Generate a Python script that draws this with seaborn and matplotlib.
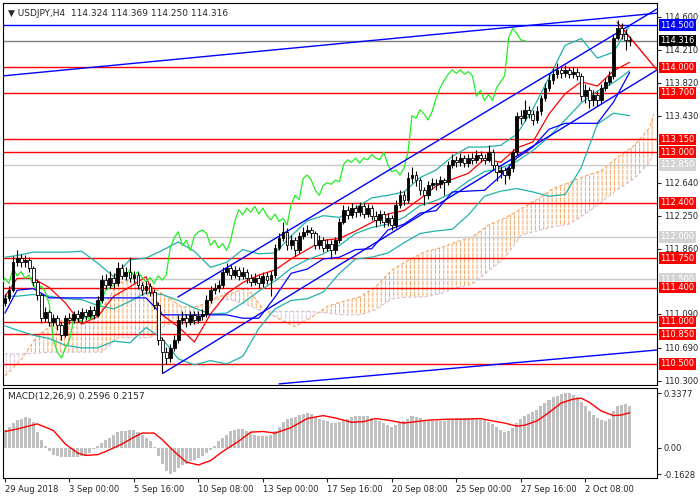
import numpy as np
import matplotlib
matplotlib.use("Agg")
import matplotlib.pyplot as plt
import seaborn as sns

sns.set_style("white")
plt.rcParams["font.family"] = ["DejaVu Sans"]
plt.rcParams["hatch.linewidth"] = 0.7

# USDJPY H4 candles (bar 0 = 29 Aug 2018 08:00)
first_open = 111.22
closes = [111.28, 111.37, 111.70, 111.75, 111.70, 111.73, 111.63, 111.47, 111.31, 111.04,
          111.11, 111.00, 111.04, 110.96, 110.84, 111.04, 111.02, 111.09, 111.04, 111.11,
          111.07, 111.14, 111.08, 111.26, 111.49, 111.43, 111.51, 111.45, 111.63, 111.54,
          111.59, 111.51, 111.55, 111.43, 111.37, 111.42, 111.35, 111.20, 110.78, 110.64,
          110.57, 110.69, 110.78, 111.02, 111.04, 111.00, 111.08, 111.02, 111.07, 111.09,
          111.26, 111.37, 111.40, 111.43, 111.59, 111.63, 111.55, 111.61, 111.54, 111.59,
          111.52, 111.47, 111.52, 111.45, 111.54, 111.49, 111.55, 111.87, 111.99, 112.06,
          111.90, 111.96, 111.84, 112.01, 112.06, 112.08, 112.04, 111.90, 111.96, 111.87,
          111.92, 111.84, 111.96, 112.18, 112.32, 112.26, 112.34, 112.29, 112.36, 112.27,
          112.34, 112.25, 112.20, 112.27, 112.18, 112.22, 112.14, 112.38, 112.49, 112.44,
          112.69, 112.73, 112.67, 112.55, 112.49, 112.61, 112.64, 112.62, 112.67, 112.65,
          112.85, 112.91, 112.88, 112.93, 112.87, 112.93, 112.91, 112.97, 112.93, 112.91,
          113.00, 112.85, 112.77, 112.79, 112.73, 112.81, 113.00, 113.43, 113.40, 113.50,
          113.45, 113.38, 113.48, 113.64, 113.76, 113.85, 113.92, 113.97, 113.93, 113.97,
          113.92, 113.95, 113.90, 113.66, 113.73, 113.61, 113.68, 113.61, 113.76, 113.83,
          113.90, 114.35, 114.46, 114.40, 114.324, 114.316]
highs = [111.33, 111.42, 111.78, 111.84, 111.80, 111.79, 111.76, 111.66, 111.50, 111.34,
         111.17, 111.14, 111.09, 111.08, 111.00, 111.08, 111.10, 111.13, 111.14, 111.16,
         111.15, 111.19, 111.18, 111.30, 111.55, 111.56, 111.60, 111.57, 111.70, 111.68,
         111.65, 111.76, 111.60, 111.58, 111.47, 111.48, 111.46, 111.39, 111.23, 110.82,
         110.70, 110.73, 110.84, 111.08, 111.12, 111.09, 111.13, 111.12, 111.12, 111.15,
         111.31, 111.42, 111.46, 111.49, 111.64, 111.69, 111.67, 111.66, 111.65, 111.64,
         111.62, 111.56, 111.57, 111.55, 111.58, 111.58, 111.60, 111.92, 112.05, 112.18,
         112.10, 112.02, 112.00, 112.06, 112.12, 112.14, 112.12, 112.07, 112.02, 112.00,
         111.98, 111.96, 112.00, 112.22, 112.38, 112.37, 112.40, 112.38, 112.41, 112.40,
         112.39, 112.38, 112.30, 112.32, 112.31, 112.28, 112.26, 112.43, 112.55, 112.54,
         112.76, 112.82, 112.78, 112.70, 112.59, 112.66, 112.70, 112.68, 112.72, 112.70,
         112.90, 112.98, 112.96, 112.99, 112.97, 112.98, 112.99, 113.02, 113.01, 112.98,
         113.09, 113.04, 112.88, 112.84, 112.83, 112.86, 113.04, 113.47, 113.50, 113.62,
         113.55, 113.50, 113.54, 113.68, 113.82, 113.92, 113.99, 114.05, 114.02, 114.03,
         114.01, 114.01, 113.99, 113.93, 113.80, 113.77, 113.73, 113.72, 113.80, 113.88,
         113.96, 114.40, 114.56, 114.52, 114.45, 114.369]
lows = [111.18, 111.24, 111.35, 111.66, 111.64, 111.65, 111.58, 111.42, 111.26, 110.98,
        111.00, 110.95, 110.95, 110.90, 110.78, 110.82, 110.97, 110.98, 110.99, 111.00,
        111.02, 111.04, 111.03, 111.05, 111.22, 111.38, 111.40, 111.40, 111.42, 111.50,
        111.49, 111.47, 111.46, 111.38, 111.31, 111.33, 111.30, 111.15, 110.72, 110.39,
        110.50, 110.52, 110.65, 110.75, 110.97, 110.94, 110.96, 110.97, 110.98, 111.02,
        111.06, 111.22, 111.33, 111.35, 111.40, 111.55, 111.50, 111.51, 111.49, 111.50,
        111.46, 111.42, 111.43, 111.40, 111.41, 111.44, 111.30, 111.52, 111.84, 111.95,
        111.85, 111.86, 111.78, 111.81, 111.97, 112.02, 111.99, 111.86, 111.86, 111.82,
        111.83, 111.74, 111.80, 111.93, 112.15, 112.21, 112.22, 112.24, 112.25, 112.22,
        112.23, 112.20, 112.12, 112.15, 112.12, 112.13, 112.08, 112.10, 112.34, 112.38,
        112.40, 112.64, 112.60, 112.50, 112.38, 112.45, 112.56, 112.55, 112.58, 112.50,
        112.61, 112.81, 112.82, 112.84, 112.82, 112.83, 112.86, 112.87, 112.88, 112.86,
        112.88, 112.80, 112.66, 112.70, 112.62, 112.68, 112.77, 112.97, 113.33, 113.37,
        113.40, 113.32, 113.34, 113.44, 113.60, 113.72, 113.81, 113.88, 113.88, 113.89,
        113.87, 113.88, 113.85, 113.60, 113.58, 113.52, 113.55, 113.55, 113.58, 113.72,
        113.79, 113.86, 114.32, 114.33, 114.20, 114.250]

# indicator lines, every 4th bar
line_bars = [0] + list(range(3, 156, 4))
bb_upper = [111.76, 111.78, 111.82, 111.82, 111.82, 111.83, 111.69, 111.53, 111.73, 111.75,
            111.84, 111.94, 111.83, 111.64, 111.70, 111.85, 111.80, 111.81, 112.01, 112.19,
            112.25, 112.23, 112.34, 112.46, 112.49, 112.53, 112.70, 112.79, 112.95, 113.06,
            113.06, 113.08, 113.21, 113.51, 113.88, 114.26, 114.34, 114.11, 114.18, 114.49]
bb_mid = [111.30, 111.30, 111.32, 111.30, 111.27, 111.26, 111.19, 111.15, 111.24, 111.34,
          111.32, 111.25, 111.16, 111.09, 111.10, 111.22, 111.36, 111.48, 111.63, 111.73,
          111.80, 111.90, 112.04, 112.11, 112.15, 112.23, 112.37, 112.43, 112.52, 112.66,
          112.77, 112.81, 112.89, 113.02, 113.18, 113.38, 113.58, 113.72, 113.82, 113.96]
bb_lower = [110.95, 110.90, 110.84, 110.80, 110.72, 110.69, 110.69, 110.77, 110.75, 110.93,
            110.80, 110.56, 110.49, 110.54, 110.50, 110.59, 110.92, 111.15, 111.25, 111.27,
            111.35, 111.57, 111.74, 111.76, 111.81, 111.93, 112.04, 112.07, 112.09, 112.26,
            112.48, 112.54, 112.57, 112.53, 112.48, 112.50, 112.82, 113.33, 113.46, 113.43]
tenkan = [111.30, 111.51, 111.51, 111.40, 111.22, 110.97, 111.06, 111.30, 111.41, 111.53,
          111.08, 110.94, 110.76, 111.09, 111.33, 111.46, 111.55, 111.61, 111.74, 111.85,
          111.96, 111.98, 112.07, 112.17, 112.27, 112.31, 112.45, 112.60, 112.68, 112.75,
          112.92, 112.88, 113.05, 113.12, 113.45, 113.69, 113.83, 113.78, 113.96, 114.06]
kijun = [111.10, 111.37, 111.39, 111.28, 111.28, 111.28, 111.28, 111.28, 111.28, 111.28,
         111.08, 111.08, 111.08, 111.08, 111.08, 111.04, 111.04, 111.29, 111.57, 111.62,
         111.74, 111.76, 111.85, 111.86, 112.08, 112.15, 112.28, 112.31, 112.53, 112.54,
         112.55, 112.72, 112.93, 113.06, 113.27, 113.34, 113.34, 113.34, 113.59, 113.94]

cloud_bars = list(range(0, 161, 4)) + [161]
senkou_a = [110.36, 110.55, 110.83, 110.97, 111.05, 111.07, 111.14, 111.45, 111.51, 111.43,
            111.30, 111.17, 111.18, 111.28, 111.33, 111.40, 111.15, 111.03, 110.94, 111.05,
            111.18, 111.24, 111.29, 111.41, 111.61, 111.72, 111.82, 111.87, 111.94, 112.00,
            112.14, 112.22, 112.33, 112.44, 112.57, 112.64, 112.72, 112.78, 112.94, 113.07,
            113.29, 113.45]
senkou_b = [110.62, 110.62, 110.63, 110.64, 110.64, 110.64, 110.64, 110.81, 110.81, 110.81,
            110.97, 110.97, 110.97, 111.26, 111.26, 111.20, 111.12, 111.12, 111.12, 111.12,
            111.10, 111.08, 111.08, 111.14, 111.27, 111.29, 111.29, 111.33, 111.40, 111.44,
            111.60, 111.75, 112.02, 112.07, 112.12, 112.15, 112.27, 112.41, 112.56, 112.68,
            112.88, 113.02]

# MACD(12,26,9): main as histogram, signal as line
macd_hist = [0.106, 0.13, 0.152, 0.168, 0.18, 0.19, 0.183, 0.161, 0.096, 0.05,
             0.01, -0.02, -0.043, -0.052, -0.056, -0.058, -0.058, -0.057, -0.055, -0.05,
             -0.043, -0.035, -0.01, 0.01, 0.03, 0.045, 0.06, 0.077, 0.095, 0.10,
             0.105, 0.106, 0.106, 0.097, 0.08, 0.06, 0.04, 0.005, -0.05, -0.10,
             -0.145, -0.1628, -0.15, -0.125, -0.11, -0.10, -0.085, -0.075, -0.062, -0.05,
             -0.035, -0.015, 0.01, 0.04, 0.06, 0.08, 0.10, 0.11, 0.115, 0.118,
             0.105, 0.09, 0.08, 0.075, 0.072, 0.072, 0.078, 0.10, 0.13, 0.16,
             0.175, 0.185, 0.19, 0.20, 0.21, 0.216, 0.205, 0.19, 0.178, 0.17,
             0.163, 0.152, 0.155, 0.16, 0.172, 0.18, 0.19, 0.195, 0.198, 0.198,
             0.195, 0.185, 0.172, 0.165, 0.152, 0.142, 0.13, 0.14, 0.155, 0.165,
             0.18, 0.195, 0.192, 0.183, 0.17, 0.165, 0.163, 0.162, 0.163, 0.165,
             0.172, 0.178, 0.181, 0.183, 0.184, 0.185, 0.184, 0.182, 0.175, 0.168,
             0.16, 0.145, 0.125, 0.11, 0.095, 0.10, 0.12, 0.155, 0.175, 0.195,
             0.21, 0.22, 0.235, 0.255, 0.275, 0.295, 0.31, 0.322, 0.332, 0.3377,
             0.335, 0.328, 0.31, 0.285, 0.255, 0.225, 0.20, 0.185, 0.17, 0.165,
             0.18, 0.225, 0.255, 0.265, 0.272, 0.2596]
sig_bars = [0, 3, 8, 12, 15, 18, 20, 23, 25, 29, 32, 34, 37, 39, 42, 45, 48, 51, 54, 58,
            61, 64, 67, 71, 75, 79, 82, 86, 89, 92, 95, 99, 102, 105, 110, 114, 118, 121, 124, 127,
            129, 132, 135, 138, 141, 143, 145, 148, 151, 153, 155]
sig_vals = [0.10, 0.115, 0.147, 0.106, 0.022, -0.033, -0.048, -0.043, -0.024, 0.022,
            0.065, 0.09, 0.09, 0.05, -0.024, -0.089, -0.107, -0.08, -0.024, 0.04,
            0.096, 0.10, 0.09, 0.124, 0.18, 0.198, 0.183, 0.157, 0.161, 0.18,
            0.17, 0.152, 0.161, 0.17, 0.176, 0.176, 0.18, 0.165, 0.152, 0.133,
            0.139, 0.165, 0.217, 0.276, 0.30, 0.306, 0.28, 0.226, 0.198, 0.202, 0.2157]

# drawn objects: levels and trend lines
red_levels = [114.0, 113.7, 113.15, 113.0, 112.4, 111.75, 111.4, 111.0, 110.85, 110.5]
blue_levels = [114.5]
silver_levels = [112.85, 112.0, 111.5]
bid = 114.316
trend_lines = [
    ([-0.5, 161.8], [113.90, 114.64], "blue"),
    ([42.9, 161.8], [111.29, 114.69], "blue"),
    ([39.2, 161.8], [110.39, 113.97], "blue"),
    ([68.0, 161.8], [110.265, 110.665], "blue"),
    ([151.9, 161.8], [114.535, 113.97], "red"),
]

# scale labels (113.040 and 111.480 sit under level tags on the original)
price_ticks = [114.600, 114.210, 113.820, 113.430, 112.640, 112.250,
               111.860, 111.090, 110.690, 110.300]
date_ticks = [0, 16, 32, 48, 64, 80, 96, 112, 128, 144]
date_labels = ["29 Aug 2018", "3 Sep 00:00", "5 Sep 16:00", "10 Sep 08:00", "13 Sep 00:00",
               "17 Sep 16:00", "20 Sep 08:00", "25 Sep 00:00", "27 Sep 16:00", "2 Oct 08:00"]

n = len(closes)
bars = np.arange(n)
c = np.array(closes)
o = np.array([first_open] + closes[:-1])

fig = plt.figure(figsize=(7, 5), dpi=100)
ax = fig.add_axes([3 / 700, 1 - 385 / 500, 654 / 700, 382 / 500])
mx = fig.add_axes([3 / 700, 1 - 478 / 500, 654 / 700, 90 / 500])
xlim = (-0.5, 161.8)

# ichimoku cloud
cx = np.array(cloud_bars)
ca = np.array(senkou_a)
cb = np.array(senkou_b)
ax.fill_between(cx, ca, cb, where=ca >= cb, interpolate=True, facecolor="none",
                edgecolor="#F4A460", hatch="||||", linewidth=0, zorder=1)
ax.fill_between(cx, ca, cb, where=ca < cb, interpolate=True, facecolor="none",
                edgecolor="#D8BFD8", hatch="||||", linewidth=0, zorder=1)
ax.fill_between(cx, ca, cb, facecolor="none", edgecolor="white", hatch="---",
                linewidth=0, zorder=1.1)
ax.plot(cx, ca, color="#F4A460", lw=0.8, ls=(0, (3, 2)), zorder=1.2)
ax.plot(cx, cb, color="#D8BFD8", lw=0.8, ls=(0, (3, 2)), zorder=1.2)

# horizontal levels
for lv in red_levels:
    ax.axhline(lv, color="red", lw=1, zorder=2)
for lv in blue_levels:
    ax.axhline(lv, color="blue", lw=1, zorder=2)
for lv in silver_levels:
    ax.axhline(lv, color="#C8C8C8", lw=1, zorder=2)
ax.axhline(bid, color="#808080", lw=1, zorder=2)

# indicators
for ys in (bb_upper, bb_mid, bb_lower):
    sns.lineplot(x=line_bars, y=ys, ax=ax, color="#20B2AA", linewidth=0.9, legend=False, zorder=3)
sns.lineplot(x=line_bars, y=tenkan, ax=ax, color="red", linewidth=0.9, legend=False, zorder=3)
sns.lineplot(x=line_bars, y=kijun, ax=ax, color="blue", linewidth=0.9, legend=False, zorder=3)
sns.lineplot(x=bars - 26, y=closes, ax=ax, color="#22EE22", linewidth=0.9, legend=False, zorder=3)

for xs, ys, col in trend_lines:
    ax.plot(xs, ys, color=col, lw=1, zorder=3)

# candles
up = c >= o
body_lo = np.minimum(o, c)
body_h = np.maximum(np.abs(c - o), 0.006)
ax.vlines(bars, lows, highs, color="black", linewidth=0.8, zorder=4)
ax.bar(bars, body_h, bottom=body_lo, width=0.7, color=np.where(up, "black", "white"),
       edgecolor="black", linewidth=0.6, zorder=5)

ax.set_xlim(*xlim)
ax.set_ylim(110.252, 114.76)
ax.set_xticks([])
ax.yaxis.tick_right()
ax.set_yticks(price_ticks)
ax.set_yticklabels([f"{v:.3f}" for v in price_ticks], fontsize=6)
ax.tick_params(axis="y", length=3, width=0.8, pad=2, direction="out", right=True, left=False)
ax.set_xlabel("")
ax.set_ylabel("")


def tag(axis, y, text, fc, tc="white"):
    axis.text(1.005, y, text, transform=axis.get_yaxis_transform(), ha="left", va="center",
              fontsize=6, color=tc, zorder=10,
              bbox=dict(boxstyle="square,pad=0.15", fc=fc, ec="none"))


for lv in silver_levels:
    tag(ax, lv, f"{lv:.3f}", "#D3D3D3")
for lv in red_levels:
    tag(ax, lv, f"{lv:.3f}", "red")
for lv in blue_levels:
    tag(ax, lv, f"{lv:.3f}", "blue")
tag(ax, bid, f"{bid:.3f}", "black")

ax.text(0.008, 0.985, "\u25bc USDJPY,H4  114.324 114.369 114.250 114.316", transform=ax.transAxes,
        fontsize=6.5, va="top", ha="left", zorder=10)

# MACD panel
mx.bar(bars, macd_hist, width=0.75, color="#C0C0C0", linewidth=0, zorder=2)
sns.lineplot(x=sig_bars, y=sig_vals, ax=mx, color="red", linewidth=1, legend=False, zorder=3)
mx.set_xlim(*xlim)
mx.set_ylim(-0.1875, 0.3686)
mx.yaxis.tick_right()
mx.set_yticks([0.3377, 0.0, -0.1628])
mx.set_yticklabels(["0.3377", "0.00", "-0.1628"], fontsize=6)
mx.tick_params(axis="y", length=3, width=0.8, pad=2, direction="out", right=True, left=False)
mx.set_xticks(date_ticks)
mx.set_xticklabels(date_labels, fontsize=6, ha="left")
mx.tick_params(axis="x", length=3, width=0.8, pad=2, direction="out", bottom=True)
mx.set_xlabel("")
mx.set_ylabel("")
mx.text(0.008, 0.95, "MACD(12,26,9) 0.2596 0.2157", transform=mx.transAxes,
        fontsize=6.5, va="top", ha="left")

for a in (ax, mx):
    for sp in a.spines.values():
        sp.set_visible(True)
        sp.set_color("black")
        sp.set_linewidth(0.8)

fig.savefig("out.png", dpi=100, facecolor="white")
